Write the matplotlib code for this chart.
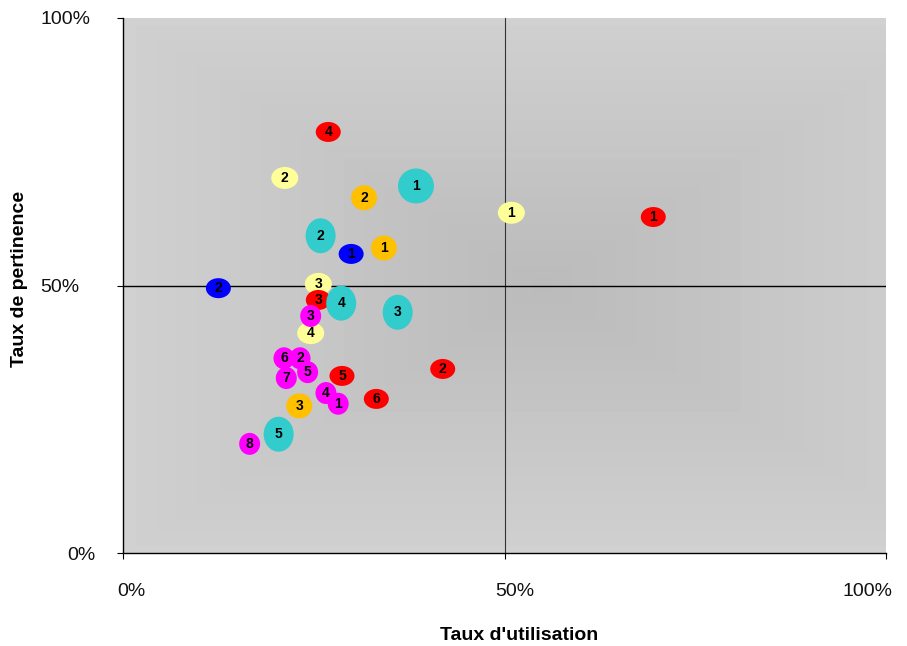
import numpy as np
import matplotlib
matplotlib.use('Agg')
import matplotlib.pyplot as plt
from matplotlib.patches import Ellipse
from matplotlib.transforms import ScaledTranslation

plt.rcParams['font.family'] = ['Liberation Sans', 'DejaVu Sans']

# series data: (label numbers, taux d'utilisation %, taux de pertinence %)
yellow_lbl = ['2', '1', '3', '4']
yellow_x = [21.2, 50.9, 25.6, 24.6]
yellow_y = [70.1, 63.6, 50.3, 41.1]

orange_lbl = ['2', '1', '3']
orange_x = [31.6, 34.2, 23.1]
orange_y = [66.4, 57.0, 27.5]

blue_lbl = ['1', '2']
blue_x = [29.9, 12.5]
blue_y = [55.9, 49.5]

red_lbl = ['4', '1', '3', '2', '5', '6']
red_x = [26.9, 69.5, 25.6, 41.9, 28.7, 33.2]
red_y = [78.7, 62.8, 47.3, 34.4, 33.1, 28.8]

cyan_lbl = ['1', '2', '4', '3', '5']
cyan_x = [38.4, 25.9, 28.6, 36.0, 20.4]
cyan_y = [68.6, 59.3, 46.7, 45.0, 22.2]

magenta_lbl = ['3', '6', '2', '5', '7', '4', '1', '8']
magenta_x = [24.6, 21.1, 23.2, 24.2, 21.4, 26.6, 28.2, 16.6]
magenta_y = [44.3, 36.4, 36.4, 33.8, 32.7, 29.9, 27.9, 20.4]

tick_vals = [0, 50, 100]
tick_lbls = ['0%', '50%', '100%']

W, H, DPI = 907, 646, 100
PT = 72.0 / DPI  # points per pixel
fig = plt.figure(figsize=(W / DPI, H / DPI), dpi=DPI)
L, R, T, B = 123, 886, 18, 553
ax = fig.add_axes([L / W, 1 - B / H, (R - L) / W, (B - T) / H])
ax.set_xlim(0, 100)
ax.set_ylim(0, 100)

# rectangular "from centre" gray gradient background
n = 300
u = np.linspace(-1, 1, n)
U, V = np.meshgrid(u, u)
d = np.maximum(np.abs(U - 0.1) / 1.1, np.abs(V))
d = np.clip(d, 0, 1)
d = np.round(d * 20) / 20
shade = (187 + (209 - 187) * d) / 255.0
img = np.dstack([shade, shade, shade])
ax.imshow(img, extent=(0, 100, 0, 100), aspect='auto', zorder=0, interpolation='nearest')

ax.axvline(50, color='#333333', lw=0.8, zorder=1)
ax.axhline(50, color='black', lw=1.0, zorder=1)

px_x = (R - L) / 100.0
px_y = (B - T) / 100.0

series = [
    (yellow_lbl, yellow_x, yellow_y, '#ffff99', 27, 22),
    (orange_lbl, orange_x, orange_y, '#ffc000', 26, 25),
    (blue_lbl, blue_x, blue_y, '#0000ff', 25, 20),
    (red_lbl, red_x, red_y, '#ff0000', 25, 20),
    (cyan_lbl, cyan_x, cyan_y, '#33cccc', 30, 35),
    (magenta_lbl, magenta_x, magenta_y, '#ff00ff', 21, 22),
]
z = 2
for lbls, xs, ys, col, wpx, hpx in series:
    for lb, x, y in zip(lbls, xs, ys):
        w = wpx
        if col == '#33cccc' and lb == '1':
            w = 36
        e = Ellipse((x, y), w / px_x, hpx / px_y, facecolor=col, edgecolor='none', zorder=z)
        ax.add_patch(e)
        ax.text(x, y, lb, ha='center', va='center', fontsize=10, fontweight='bold',
                color='black', zorder=z + 0.5)
        z += 1

for s in ['top', 'right']:
    ax.spines[s].set_visible(False)
for s in ['left', 'bottom']:
    ax.spines[s].set_color('black')
    ax.spines[s].set_linewidth(1.0)

ax.set_xticks(tick_vals)
ax.set_xticklabels(tick_lbls)
ax.set_yticks(tick_vals)
ax.set_yticklabels(tick_lbls)
ax.tick_params(axis='both', direction='out', length=6 * PT, width=0.8, colors='black',
               labelsize=14, labelcolor='#111111')
ax.tick_params(axis='x', pad=24 * PT)
ax.tick_params(axis='y', pad=22 * PT)

# per-label offsets to mimic original placement
for lab, dx in zip(ax.get_xticklabels(), [8, 10, -19]):
    lab.set_transform(lab.get_transform() + ScaledTranslation(dx / DPI, 0, fig.dpi_scale_trans))
for lab, dx in zip(ax.get_yticklabels(), [0, -16, -5]):
    lab.set_transform(lab.get_transform() + ScaledTranslation(dx / DPI, 0, fig.dpi_scale_trans))

fig.text(519 / W, 1 - 635 / H, "Taux d'utilisation", ha='center', va='center',
         fontsize=14, fontweight='bold')
fig.text(20 / W, 1 - 279 / H, "Taux de pertinence", ha='center', va='center',
         fontsize=14, fontweight='bold', rotation=90)

fig.savefig('out.png', dpi=DPI)
